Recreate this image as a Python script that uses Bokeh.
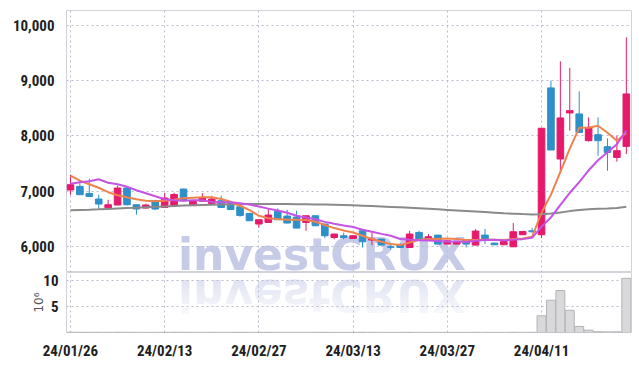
from bokeh.plotting import figure
from bokeh.models import ColumnDataSource, FixedTicker, Range1d, Div, NumeralTickFormatter
from bokeh.layouts import column
from bokeh.embed import file_html
from bokeh.resources import INLINE

tick_idx = [0, 10, 20, 30, 40, 50]
tick_labels = ["24/01/26", "24/02/13", "24/02/27", "24/03/13", "24/03/27", "24/04/11"]

opens = [7022, 7087, 6960, 6859, 6701, 6750, 7058, 6755, 6696, 6828,
         6707, 6735, 7040, 6740, 6820, 6779, 6828, 6779, 6719, 6598,
         6406, 6435, 6634, 6551, 6533, 6435, 6556, 6406, 6163, 6194,
         6145, 6284, 6116, 6134, 5995, 6031, 5982, 6254, 6116, 6206,
         6043, 6043, 6116, 6025, 6206, 6061, 6031, 5994, 6212, 6284,
         6212, 8870, 7583, 8417, 8399, 7915, 8023, 7806, 7612, 7812]
highs = [7299, 7149, 7226, 6937, 6846, 7100, 7070, 6760, 6774, 6846,
         6967, 6973, 7045, 6845, 6964, 6918, 6918, 6785, 6725, 6605,
         6490, 6678, 6690, 6665, 6647, 6560, 6560, 6410, 6230, 6250,
         6200, 6300, 6254, 6140, 6040, 6060, 6284, 6284, 6225, 6210,
         6110, 6090, 6120, 6315, 6315, 6065, 6095, 6424, 6275, 6338,
         8140, 9000, 9351, 9232, 8808, 8337, 8337, 7957, 8005, 9786]
lows = [6937, 6931, 6900, 6678, 6678, 6750, 6740, 6574, 6683, 6665,
        6700, 6730, 6828, 6735, 6815, 6775, 6700, 6660, 6538, 6460,
        6340, 6430, 6480, 6420, 6330, 6284, 6370, 6150, 6130, 6130,
        6140, 5982, 6025, 6020, 5940, 5975, 5980, 6115, 6110, 6040,
        6040, 6040, 5982, 6020, 6043, 6025, 6025, 5990, 6208, 6248,
        6152, 7746, 7322, 8096, 8065, 7900, 7643, 7371, 7534, 7674]
closes = [7118, 6937, 6906, 6768, 6755, 7058, 6755, 6678, 6750, 6678,
          6877, 6940, 6828, 6828, 6877, 6859, 6707, 6670, 6562, 6466,
          6484, 6569, 6484, 6424, 6333, 6556, 6375, 6194, 6225, 6163,
          6194, 6085, 6134, 6025, 5985, 5982, 6225, 6121, 6176, 6043,
          6103, 6085, 6043, 6279, 6121, 6031, 6091, 6266, 6272, 6266,
          8140, 7746, 8326, 8458, 8065, 8156, 7915, 7703, 7734, 8761]
ma5 = [7281, 7190, 7127, 7063, 6982, 6928, 6891, 6855, 6828, 6819,
       6828, 6846, 6873, 6882, 6891, 6891, 6859, 6810, 6737, 6659,
       6556, 6511, 6496, 6484, 6484, 6478, 6447, 6388, 6333, 6290,
       6254, 6194, 6134, 6085, 6043, 6025, 6072, 6121, 6134, 6134,
       6145, 6134, 6116, 6116, 6121, 6121, 6116, 6134, 6145, 6176,
       6610, 6938, 7350, 7770, 8147, 8150, 8184, 8059, 7915, 8054]
ma10 = [7136, 7163, 7181, 7217, 7154, 7127, 7082, 7018, 6964, 6909,
        6855, 6837, 6828, 6837, 6837, 6807, 6802, 6801, 6783, 6761,
        6722, 6685, 6651, 6610, 6556, 6526, 6492, 6445, 6411, 6381,
        6352, 6303, 6268, 6228, 6194, 6136, 6121, 6114, 6109, 6097,
        6088, 6088, 6079, 6104, 6118, 6123, 6109, 6124, 6133, 6156,
        6359, 6526, 6754, 6972, 7166, 7379, 7561, 7705, 7851, 8100]
ma_long = [6655, 6660, 6665, 6672, 6680, 6688, 6695, 6702, 6710, 6718,
           6725, 6732, 6740, 6746, 6752, 6756, 6760, 6763, 6766, 6768,
           6770, 6770, 6769, 6768, 6766, 6764, 6761, 6758, 6754, 6750,
           6745, 6738, 6731, 6724, 6716, 6708, 6700, 6692, 6682, 6672,
           6662, 6652, 6642, 6632, 6622, 6612, 6602, 6594, 6586, 6580,
           6585, 6598, 6615, 6640, 6660, 6675, 6682, 6688, 6698, 6720]
volume_m = [0.05, 0.04, 0.03, 0.04, 0.03, 0.05, 0.04, 0.03, 0.02, 0.03,
            0.04, 0.05, 0.04, 0.03, 0.03, 0.03, 0.03, 0.03, 0.04, 0.03,
            0.03, 0.04, 0.03, 0.03, 0.03, 0.03, 0.03, 0.04, 0.03, 0.02,
            0.02, 0.04, 0.03, 0.03, 0.02, 0.03, 0.04, 0.03, 0.02, 0.03,
            0.02, 0.02, 0.02, 0.03, 0.03, 0.02, 0.02, 0.04, 0.03, 0.03,
            3.23, 6.24, 8.11, 4.29, 1.17, 0.46, 0.16, 0.12, 0.14, 10.48]

UP = "#e6196b"
DOWN = "#2e8fc9"
GRID = "#b9bccf"
FRAME = "#d2d2da"
FONT = "'Roboto Condensed', 'DejaVu Sans Condensed', Roboto"

idx = list(range(len(closes)))
cols = [UP if c >= o else DOWN for o, c in zip(opens, closes)]
src = ColumnDataSource(dict(
    x=idx, o=opens, h=highs, l=lows, c=closes,
    top=[max(a, b) for a, b in zip(opens, closes)],
    bot=[min(a, b) for a, b in zip(opens, closes)],
    col=cols, ma5=ma5, ma10=ma10, mal=ma_long, vol=volume_m))

W = 639
xr = Range1d(-0.42, 59.55)

p = figure(width=W, height=272, x_range=xr, y_range=Range1d(5529, 10271),
           output_backend="svg", toolbar_location=None,
           min_border_left=66, min_border_right=8, min_border_top=10, min_border_bottom=0)
p.xaxis.visible = False
p.xgrid.ticker = FixedTicker(ticks=tick_idx)
p.yaxis.ticker = FixedTicker(ticks=[6000, 7000, 8000, 9000, 10000])
p.yaxis.formatter = NumeralTickFormatter(format="0,0")
for g in (p.xgrid, p.ygrid):
    g.grid_line_color = GRID
    g.grid_line_dash = "2 3"
    g.grid_line_width = 1
p.yaxis.axis_line_color = None
p.yaxis.major_tick_line_color = None
p.yaxis.minor_tick_line_color = None
p.yaxis.major_label_text_font = FONT
p.yaxis.major_label_text_font_style = "bold"
p.yaxis.major_label_text_font_size = "15px"
p.yaxis.major_label_text_color = "#1e1e1e"
p.yaxis.major_label_standoff = 6
p.outline_line_color = FRAME
p.background_fill_alpha = 0
p.border_fill_alpha = 0

p.segment(x0="x", y0="l", x1="x", y1="h", color="col", line_width=1, source=src)
p.vbar(x="x", width=0.7, top="top", bottom="bot", fill_color="col", line_color="col", source=src)
p.line("x", "mal", color="#8a8a8a", line_width=2, source=src)
p.line("x", "ma5", color="#f0824e", line_width=2, source=src)
p.line("x", "ma10", color="#c553e3", line_width=2, source=src)

v = figure(width=W, height=90, x_range=xr, y_range=Range1d(0, 11.6),
           output_backend="svg", toolbar_location=None,
           min_border_left=66, min_border_right=8, min_border_top=0, min_border_bottom=24)
v.vbar(x="x", width=0.95, top="vol", bottom=0, fill_color="#d9d9dc",
       line_color="#b4b4b8", line_width=1, source=src)
v.xaxis.ticker = FixedTicker(ticks=tick_idx)
v.xaxis.major_label_overrides = {i: s for i, s in zip(tick_idx, tick_labels)}
v.yaxis.ticker = FixedTicker(ticks=[5, 10])
v.yaxis.axis_label = "10⁶"
v.yaxis.axis_label_text_font = "DejaVu Sans"
v.yaxis.axis_label_text_font_style = "normal"
v.yaxis.axis_label_text_font_size = "12px"
v.yaxis.axis_label_text_color = "#555555"
v.yaxis.axis_label_standoff = -6
for ax in (v.xaxis, v.yaxis):
    ax.axis_line_color = None
    ax.major_tick_line_color = None
    ax.minor_tick_line_color = None
    ax.major_label_text_font = FONT
    ax.major_label_text_font_style = "bold"
    ax.major_label_text_font_size = "15px"
    ax.major_label_text_color = "#1e1e1e"
v.yaxis.major_label_standoff = 2
v.xaxis.major_label_standoff = 3
for g in (v.xgrid, v.ygrid):
    g.grid_line_color = GRID
    g.grid_line_dash = "2 3"
v.outline_line_color = FRAME
v.background_fill_alpha = 0
v.border_fill_alpha = 0

wm_style = {"position": "absolute", "left": "173px", "top": "230px",
            "font-family": "DejaVu Sans", "font-weight": "bold",
            "font-size": "44px", "line-height": "40px", "color": "#c6cbe7",
            "-webkit-box-reflect": "below 0px linear-gradient(to bottom, rgba(0,0,0,0.12), rgba(0,0,0,0.6))",
            "z-index": "-1", "pointer-events": "none", "white-space": "nowrap"}
wm = Div(text="investCRUX", width=300, height=40, styles=wm_style)

layout = column(p, v, wm, spacing=0)
open("out.html", "w").write(file_html(layout, INLINE))
